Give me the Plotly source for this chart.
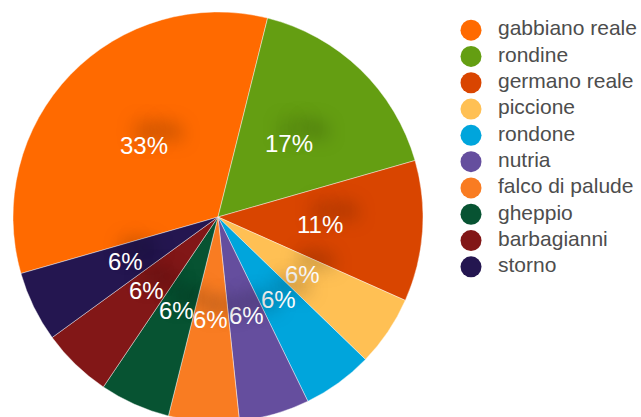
import math

import plotly.graph_objects as go

# data
species = [
    "gabbiano reale",
    "rondine",
    "germano reale",
    "piccione",
    "rondone",
    "nutria",
    "falco di palude",
    "gheppio",
    "barbagianni",
    "storno",
]
counts = [6, 3, 2, 1, 1, 1, 1, 1, 1, 1]
colors = [
    "#FF6A00",
    "#649E12",
    "#D94500",
    "#FFC054",
    "#00A5DC",
    "#654E9E",
    "#F97C22",
    "#075332",
    "#821717",
    "#241650",
]

# layout geometry (pixels)
W, H = 641, 422
CX, CY, R = 218, 217, 205
START = -106  # first slice starts here, clockwise from 12 o'clock
LABEL_R = 0.5

fig = go.Figure()

fig.add_trace(
    go.Pie(
        labels=species,
        values=counts,
        sort=False,
        direction="clockwise",
        rotation=START,
        marker=dict(colors=colors, line=dict(color="rgba(255,255,255,0.6)", width=0.7)),
        textinfo="none",
        hoverinfo="label+percent",
        showlegend=False,
        domain=dict(x=[(CX - R) / W, (CX + R) / W], y=[(H - CY - R) / H, (H - CY + R) / H]),
    )
)

# percent labels at half radius, from the slice mid-angles
total = sum(counts)
acc = 0
for c in counts:
    mid = math.radians(START + (acc + c / 2) / total * 360)
    acc += c
    px = CX + LABEL_R * R * math.sin(mid)
    py = CY - LABEL_R * R * math.cos(mid)
    fig.add_annotation(
        x=px / W,
        y=1 - py / H,
        xref="paper",
        yref="paper",
        xanchor="center",
        yanchor="middle",
        text=f"{round(100 * c / total)}%",
        showarrow=False,
        font=dict(
            family="Liberation Sans, Arial, sans-serif",
            size=24,
            color="white",
            shadow="14px -14px 18px rgba(0,0,0,0.6)",
        ),
    )

# legend drawn as markers + text on a category axis
fig.add_trace(
    go.Scatter(
        x=[0] * len(species),
        y=species,
        mode="markers",
        marker=dict(symbol="circle", size=21, color=colors),
        hoverinfo="skip",
        showlegend=False,
    )
)
fig.add_trace(
    go.Scatter(
        x=[27] * len(species),
        y=species,
        mode="text",
        text=species,
        textposition="middle right",
        textfont=dict(family="Liberation Sans, Arial, sans-serif", size=21, color="#4d4d4d"),
        hoverinfo="skip",
        showlegend=False,
    )
)

fig.update_xaxes(visible=False, domain=[449 / W, 1], range=[-22, 170], fixedrange=True)
fig.update_yaxes(
    visible=False,
    type="category",
    domain=[(H - 280) / H, (H - 17) / H],
    range=[len(species) - 0.5, -0.5],
    fixedrange=True,
)

fig.update_layout(
    width=W,
    height=H,
    margin=dict(l=0, r=0, t=0, b=0),
    paper_bgcolor="white",
    plot_bgcolor="rgba(0,0,0,0)",
    showlegend=False,
)

fig.write_html(
    "out.html",
    config={"displayModeBar": False},
    post_script="document.body.style.margin='0';document.body.style.overflow='hidden';"
    "document.documentElement.style.overflow='hidden';",
)
